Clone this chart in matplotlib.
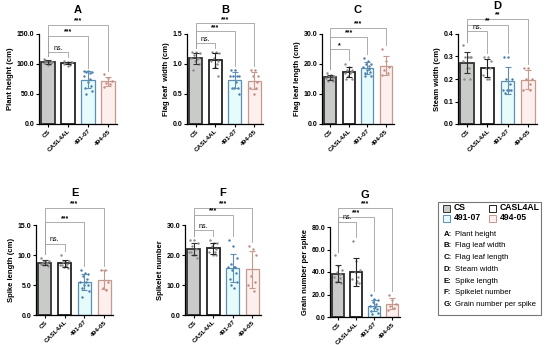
import numpy as np
import matplotlib
matplotlib.use('Agg')
import matplotlib.pyplot as plt
from matplotlib.patches import Rectangle

plt.rcParams['font.family'] = ['Liberation Sans', 'DejaVu Sans']
plt.rcParams['axes.linewidth'] = 0.9

groups = ['CS', 'CASL4AL', '491-07', '494-05']
panel_letters = ['A', 'B', 'C', 'D', 'E', 'F', 'G']
ylabels = ['Plant height (cm)', 'Flag leaf  width (cm)', 'Flag leaf length (cm)', 'Steam width (cm)',
           'Spike length (cm)', 'Spikelet number', 'Grain number per spike']
ymax = [150, 1.5, 30, 0.4, 15, 30, 80]
ystep = [50, 0.5, 10, 0.1, 5, 10, 20]
sig_labels = [['ns.', '***', '***'], ['ns.', '***', '***'], ['*', '***', '***'], ['ns.', '**', '**'],
              ['ns.', '***', '***'], ['ns.', '***', '***'], ['ns.', '***', '***']]

# individual measurements per panel, per group (CS, CASL4AL, 491-07, 494-05)
plant_height = [[108, 105, 104, 103, 102, 101, 100, 99, 104, 106],
                [105, 104, 103, 102, 101, 100, 99, 97, 103, 102],
                [88, 88, 87, 86, 85, 80, 75, 70, 63, 60, 55, 50],
                [83, 77, 72, 68, 66, 62]]
flag_leaf_width = [[1.2, 1.2, 1.18, 1.15, 1.1, 1.1, 1.08, 1.05, 1.0, 0.9],
                   [1.2, 1.2, 1.18, 1.1, 1.05, 1.05, 1.0, 0.95, 0.8],
                   [0.9, 0.9, 0.8, 0.8, 0.8, 0.8, 0.7, 0.6, 0.6, 0.6, 0.5],
                   [0.9, 0.9, 0.8, 0.8, 0.7, 0.6, 0.6, 0.5]]
flag_leaf_length = [[17, 16.5, 16, 16, 15.5, 15.5, 15, 15, 14.5, 14.5],
                    [20, 19, 18, 18, 17.5, 17, 17, 16, 15, 15],
                    [22, 21, 20, 20, 19.5, 19, 18.5, 18, 17.5, 17, 16, 16],
                    [25, 21, 19, 18, 17, 16.5]]
steam_width = [[0.35, 0.3, 0.3, 0.3, 0.3, 0.28, 0.25, 0.25, 0.2, 0.2],
               [0.3, 0.3, 0.28, 0.25, 0.25, 0.22, 0.2, 0.2],
               [0.3, 0.3, 0.2, 0.2, 0.18, 0.15, 0.15, 0.15, 0.15, 0.14],
               [0.25, 0.25, 0.2, 0.2, 0.18, 0.15, 0.15]]
spike_length = [[9.5, 9, 9, 8.8, 8.7, 8.5, 8.5, 8.3, 8.2, 8.5],
                [10, 9, 9, 8.8, 8.5, 8.3, 8.2, 8, 7.8, 8.4],
                [7.5, 7, 6.8, 6.5, 6, 5.5, 5.5, 5, 5, 4.5, 4, 3],
                [7.5, 7.5, 5.5, 4.5, 4.2]]
spikelet_number = [[25, 25, 24, 23, 22, 21, 20, 20, 19, 21],
                   [25, 24, 24, 23, 22, 21, 21, 20, 20],
                   [25, 23, 19, 17, 16, 16, 16, 15, 14, 12, 11, 10, 9],
                   [23, 22, 20, 13, 11, 10, 8]]
grain_number = [[55, 45, 42, 40, 38, 36, 35, 32, 30, 31],
                [68, 50, 42, 40, 36, 34, 32, 30, 30],
                [20, 16, 15, 13, 12, 10, 9, 8, 7, 5, 4, 3],
                [20, 15, 12, 10, 8, 6]]
panel_data = [plant_height, flag_leaf_width, flag_leaf_length, steam_width,
              spike_length, spikelet_number, grain_number]

# styling / layout
fills = ['#c9cbc9', '#ffffff', '#e6fbfb', '#fcefed']
edges = ['#333333', '#222222', '#5e8fb3', '#c49a8e']
dots = ['#8a8a8a', '#8a8a8a', '#4a7aa8', '#c08a80']
W, H = 550, 345
ax_px = [(39, 34, 78), (187, 34, 76), (322, 34, 72), (458, 34, 79),
         (36, 225, 77), (185, 225, 76), (330, 227, 70)]
title_y = [1.27, 1.27, 1.27, 1.31, 1.36, 1.36, 1.36]
bracket_frac = [[0.80, 0.98, 1.10], [0.90, 1.03, 1.12], [0.83, 0.97, 1.07], [1.03, 1.10, 1.17],
                [0.79, 1.03, 1.19], [0.94, 1.11, 1.19], [1.06, 1.11, 1.21]]
offs = [-0.18, 0.02, 0.2, -0.08, 0.12, -0.22, 0.08, -0.02, 0.16, -0.14, 0.22, -0.1, 0.04]

fig = plt.figure(figsize=(W / 100, H / 100), dpi=100)

for i, vals in enumerate(panel_data):
    x0, ytop, wpx = ax_px[i]
    ax = fig.add_axes([x0 / W, 1 - (ytop + 90) / H, wpx / W, 90 / H])
    top = ymax[i]
    xs = np.arange(4)
    means = [np.mean(v) for v in vals]
    sds = [np.std(v, ddof=1) for v in vals]
    for j in range(4):
        lw = 1.3 if j < 2 else 0.9
        ax.bar(xs[j], means[j], width=0.66, color=fills[j], edgecolor=edges[j], linewidth=lw, zorder=2)
        ax.errorbar(xs[j], means[j], yerr=sds[j], color=edges[j], elinewidth=0.8, capsize=2,
                    capthick=0.8, zorder=4)
        px = xs[j] + np.array(offs[:len(vals[j])])
        ax.scatter(px, vals[j], s=3, color=dots[j], zorder=3, linewidths=0)
    ax.set_xlim(-0.45, 3.45)
    ax.set_ylim(0, top)
    ax.set_yticks(np.arange(0, top + ystep[i] / 2, ystep[i]))
    ax.yaxis.set_major_formatter(plt.FormatStrFormatter('%.1f'))
    ax.set_xticks(xs)
    ax.set_xticklabels(groups, rotation=45, ha='right', rotation_mode='anchor')
    for lab in ax.get_xticklabels():
        lab.set_fontsize(4.6)
        lab.set_fontweight('bold')
    for lab in ax.get_yticklabels():
        lab.set_fontsize(5)
        lab.set_fontweight('bold')
    ax.tick_params(length=2, width=0.8, pad=1.2)
    ax.spines['top'].set_visible(False)
    ax.spines['right'].set_visible(False)
    ax.set_ylabel(ylabels[i], fontsize=5.5, fontweight='bold', labelpad=2)
    ax.text(0.5, title_y[i], panel_letters[i], transform=ax.transAxes, ha='center', va='center',
            fontsize=8, fontweight='bold')

    # significance brackets, CS vs each line
    gap = 0.04 * top
    tops = [max(max(v), m + s) + gap for v, m, s in zip(vals, means, sds)]
    for k in range(3):
        yb = bracket_frac[i][k] * top
        j = k + 1
        ax.plot([0, 0, j, j], [tops[0], yb, yb, tops[j]], color='#a0a0a0', lw=0.6,
                clip_on=False, zorder=1)
        lab = sig_labels[i][k]
        ax.text(j / 2, yb + 0.005 * top, lab, ha='center', va='bottom', fontsize=5,
                fontweight='normal' if lab == 'ns.' else 'bold', clip_on=False)

# legend box
bx0, by0, bx1, by1 = 438, 202, 541, 315
fig.patches.append(Rectangle((bx0 / W, 1 - by1 / H), (bx1 - bx0) / W, (by1 - by0) / H,
                             transform=fig.transFigure, facecolor='white', edgecolor='#777777',
                             linewidth=0.8))
leg_pos = [(443, 208), (489, 208), (443, 218), (489, 218)]
for j, (lx, ly) in enumerate(leg_pos):
    fig.patches.append(Rectangle((lx / W, 1 - (ly + 3.5) / H), 7 / W, 7 / H, transform=fig.transFigure,
                                 facecolor=fills[j], edgecolor=edges[j], linewidth=0.7))
    fig.text((lx + 11) / W, 1 - ly / H, groups[j], fontsize=6.2, fontweight='bold', va='center')

trait_names = ['Plant height', 'Flag leaf width', 'Flag leaf length', 'Steam width',
               'Spike length', 'Spikelet number', 'Grain number per spike']
for k, letter in enumerate(panel_letters):
    ly = 234 + k * 11.8
    fig.text(444 / W, 1 - ly / H, letter + ':', fontsize=5.6, fontweight='bold', va='center')
    fig.text(455 / W, 1 - ly / H, trait_names[k], fontsize=5.6, va='center')

plt.savefig('out.png', dpi=100)
